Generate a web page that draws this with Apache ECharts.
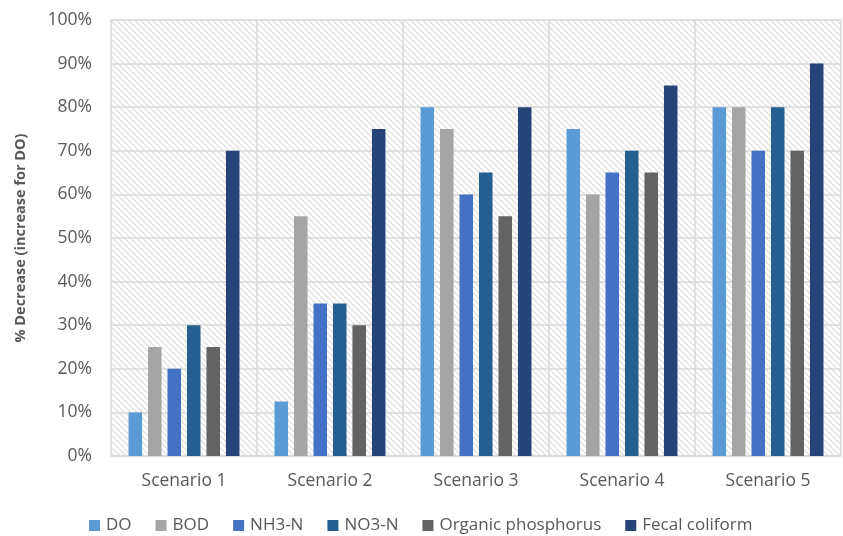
<!DOCTYPE html>
<html>
<head>
<meta charset="utf-8">
<script src="https://cdn.jsdelivr.net/npm/echarts@6/dist/echarts.min.js"></script>
<style>
  html, body { margin: 0; padding: 0; background: #ffffff; }
  #chart { width: 843px; height: 536px; }
</style>
</head>
<body>
<div id="chart"></div>
<script>
// Scenario categories and per-parameter percentage changes
const categories = ['Scenario 1', 'Scenario 2', 'Scenario 3', 'Scenario 4', 'Scenario 5'];
const seriesNames = ['DO', 'BOD', 'NH3-N', 'NO3-N', 'Organic phosphorus', 'Fecal coliform'];
const doValues = [10, 12.5, 80, 75, 80];
const bodValues = [25, 55, 75, 60, 80];
const nh3Values = [20, 35, 60, 65, 70];
const no3Values = [30, 35, 65, 70, 80];
const orgPValues = [25, 30, 55, 65, 70];
const fecalValues = [70, 75, 80, 85, 90];
const yTicks = [0, 10, 20, 30, 40, 50, 60, 70, 80, 90, 100];

const seriesValues = [doValues, bodValues, nh3Values, no3Values, orgPValues, fecalValues];
const colors = ['#5B9BD5', '#A5A5A5', '#4472C4', '#255E91', '#636363', '#264478'];

// Downward-diagonal hatch tile for the plot background
function makeHatch() {
  const size = 6;
  const c = document.createElement('canvas');
  c.width = size; c.height = size;
  const ctx = c.getContext('2d');
  ctx.fillStyle = '#ffffff';
  ctx.fillRect(0, 0, size, size);
  for (let y = 0; y < size; y++) {
    ctx.fillStyle = '#dcdcdc';
    ctx.fillRect(y, y, 1, 1);
    ctx.fillStyle = '#ececec';
    ctx.fillRect((y + 1) % size, y, 1, 1);
  }
  return c;
}

const font = '"Open Sans", "Noto Sans", sans-serif';
const chart = echarts.init(document.getElementById('chart'), null, { renderer: 'canvas' });

chart.setOption({
  animation: false,
  color: colors,
  textStyle: { fontFamily: font },
  grid: {
    left: 111, top: 20, right: 2, bottom: 80,
    show: true,
    borderWidth: 0,
    backgroundColor: { image: makeHatch(), repeat: 'repeat' }
  },
  legend: {
    top: 512,
    left: 84,
    itemWidth: 11,
    itemHeight: 11,
    itemGap: 24,
    icon: 'rect',
    textStyle: { fontFamily: font, fontSize: 17, color: '#595959', padding: [0, 0, 0, 1] },
    data: seriesNames
  },
  xAxis: {
    type: 'category',
    data: categories,
    axisLine: { show: true, lineStyle: { color: '#d9d9d9', width: 1.5 } },
    axisTick: { show: false },
    splitLine: { show: true, lineStyle: { color: '#d9d9d9', width: 1.5 } },
    axisLabel: { color: '#595959', fontSize: 17.5, margin: 16, fontFamily: font }
  },
  yAxis: {
    type: 'value',
    min: yTicks[0],
    max: yTicks[yTicks.length - 1],
    interval: 10,
    name: '% Decrease (increase for DO)',
    nameLocation: 'middle',
    nameGap: 83,
    nameTextStyle: { color: '#595959', fontSize: 14.5, fontWeight: 'bold', fontFamily: font },
    axisLine: { show: false },
    axisTick: { show: false },
    splitLine: { show: true, lineStyle: { color: '#d9d9d9', width: 1.5 } },
    axisLabel: { color: '#595959', fontSize: 17.5, margin: 19, formatter: '{value}%', fontFamily: font }
  },
  series: seriesNames.map((name, i) => ({
    name: name,
    type: 'bar',
    data: seriesValues[i],
    barCategoryGap: '24%',
    barGap: '44%',
    itemStyle: { color: colors[i] }
  }))
});
</script>
</body>
</html>
